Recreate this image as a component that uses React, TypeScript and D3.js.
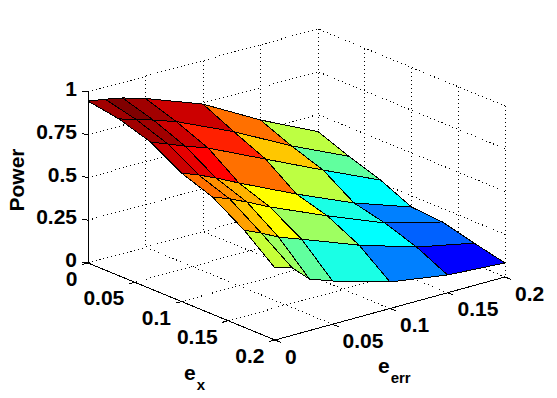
import React from 'react';
import * as d3 from 'd3';

// --- Data ---
const exGrid = [0, 0.033, 0.067, 0.1, 0.133, 0.167, 0.2];
const errGrid = [0, 0.015, 0.03, 0.05, 0.1, 0.15, 0.2];

const power0 = [0.947, 0.93, 0.91, 0.87, 0.745, 0.56, 0.4];
const power1 = [0.917, 0.886, 0.855, 0.809, 0.658, 0.483, 0.33];
const power2 = [0.858, 0.819, 0.779, 0.731, 0.574, 0.418, 0.267];
const power3 = [0.751, 0.712, 0.667, 0.601, 0.444, 0.3, 0.184];
const power4 = [0.686, 0.647, 0.601, 0.535, 0.391, 0.257, 0.171];
const power5 = [0.568, 0.523, 0.472, 0.423, 0.296, 0.193, 0.124];
const power6 = [0.421, 0.394, 0.301, 0.253, 0.155, 0.104, 0.082];
const powerRows = [power0, power1, power2, power3, power4, power5, power6];

// position on the jet colormap of each flat-shaded patch
const level0 = [0.9675, 1, 0.9675, 0.925, 0.765, 0.56];
const level1 = [0.9675, 0.9675, 0.925, 0.844, 0.68, 0.47];
const level2 = [0.925, 0.9, 0.875, 0.765, 0.56, 0.375];
const level3 = [0.765, 0.735, 0.7, 0.625, 0.4, 0.25];
const level4 = [0.718, 0.68, 0.625, 0.53, 0.375, 0.22];
const level5 = [0.57, 0.53, 0.47, 0.4, 0.25, 0.125];
const levelRows = [level0, level1, level2, level3, level4, level5];

const exTicks = [0, 0.05, 0.1, 0.15, 0.2];
const errTicks = [0, 0.05, 0.1, 0.15, 0.2];
const powerTicks = [0, 0.25, 0.5, 0.75, 1];

// --- Projection of the 3D box to the screen ---
const exToX = d3.scaleLinear().domain([0, 0.2]).range([0, 187]);
const exToY = d3.scaleLinear().domain([0, 0.2]).range([0, 77]);
const errToX = d3.scaleLinear().domain([0, 0.2]).range([0, 230]);
const errToY = d3.scaleLinear().domain([0, 0.2]).range([0, -63]);
const powerToY = d3.scaleLinear().domain([0, 1]).range([0, -171]);

const project = (ex: number, err: number, p: number): [number, number] => [
  88 + exToX(ex) + errToX(err),
  263 + exToY(ex) + errToY(err) + powerToY(p),
];

const jet = d3
  .scaleLinear<string>()
  .domain([0.125, 0.375, 0.625, 0.875, 1])
  .range(['#0000ff', '#00ffff', '#ffff00', '#ff0000', '#800000'])
  .interpolate(d3.interpolateRgb.gamma(1));

const line = d3.line();

const font = '"Liberation Sans", Arial, sans-serif';

export default function App() {
  const quads: { key: string; d: string; fill: string }[] = [];
  // back to front: far e_err first, small e_x first
  for (let j = errGrid.length - 2; j >= 0; j--) {
    for (let i = 0; i < exGrid.length - 1; i++) {
      const corners = [
        project(exGrid[i], errGrid[j], powerRows[i][j]),
        project(exGrid[i], errGrid[j + 1], powerRows[i][j + 1]),
        project(exGrid[i + 1], errGrid[j + 1], powerRows[i + 1][j + 1]),
        project(exGrid[i + 1], errGrid[j], powerRows[i + 1][j]),
      ];
      quads.push({ key: `${i}-${j}`, d: `${line(corners)}Z`, fill: jet(levelRows[i][j]) });
    }
  }

  const gridPaths: [number, number][][] = [];
  exTicks.forEach((ex) => {
    // floor and back wall lines at constant e_x
    gridPaths.push([project(ex, 0, 0), project(ex, 0.2, 0), project(ex, 0.2, 1)]);
  });
  errTicks.forEach((err) => {
    gridPaths.push([project(0.2, err, 0), project(0, err, 0), project(0, err, 1)]);
  });
  powerTicks.forEach((p) => {
    gridPaths.push([project(0, 0, p), project(0, 0.2, p), project(0.2, 0.2, p)]);
  });

  const axis: [number, number][] = [
    project(0, 0, 1),
    project(0, 0, 0),
    project(0.2, 0, 0),
    project(0.2, 0.2, 0),
  ];

  return (
    <svg
      width={557}
      height={398}
      style={{ position: 'absolute', left: 0, top: 0, background: '#fff' }}
      fontFamily={font}
      fontWeight="bold"
      fontSize={21}
    >
      <g fill="none" stroke="#000" strokeWidth={1} strokeDasharray="1 3" shapeRendering="crispEdges">
        {gridPaths.map((g, i) => (
          <path key={i} d={line(g) as string} />
        ))}
      </g>
      <g fill="none" stroke="#000" strokeWidth={1} shapeRendering="crispEdges">
        <path d={line(axis) as string} />
        {powerTicks.map((p) => {
          const [x, y] = project(0, 0, p);
          return <path key={p} d={line([[x, y], [x - 6, y - 1]]) as string} />;
        })}
        {exTicks.map((ex) => {
          const [x, y] = project(ex, 0, 0);
          return <path key={ex} d={line([[x + 2, y - 0.5], [x - 6, y + 1.6]]) as string} />;
        })}
        {errTicks.map((err) => {
          const [x, y] = project(0.2, err, 0);
          return <path key={err} d={line([[x, y], [x + 6, y + 2.4]]) as string} />;
        })}
      </g>
      <g stroke="#000" strokeWidth={1} strokeLinejoin="round" shapeRendering="crispEdges">
        {quads.map((q) => (
          <path key={q.key} d={q.d} fill={q.fill} />
        ))}
      </g>
      {powerTicks.map((p) => {
        const [x, y] = project(0, 0, p);
        return (
          <text key={p} x={x - 11} y={y + 4} textAnchor="end">
            {String(p)}
          </text>
        );
      })}
      {exTicks.map((ex) => {
        const [x, y] = project(ex, 0, 0);
        return (
          <text key={ex} x={x - 10.5} y={y + 23} textAnchor="end">
            {String(ex)}
          </text>
        );
      })}
      {errTicks.map((err) => {
        const [x, y] = project(0.2, err, 0);
        return (
          <text key={err} x={x + 10} y={y + 23.5} textAnchor="start">
            {String(err)}
          </text>
        );
      })}
      <text transform="translate(24,180) rotate(-90)" textAnchor="middle">
        Power
      </text>
      <text x={184} y={380}>
        e<tspan fontSize={15} dx={1} dy={10}>x</tspan>
      </text>
      <text x={378} y={373}>
        e<tspan fontSize={15} dx={1} dy={10}>err</tspan>
      </text>
    </svg>
  );
}
